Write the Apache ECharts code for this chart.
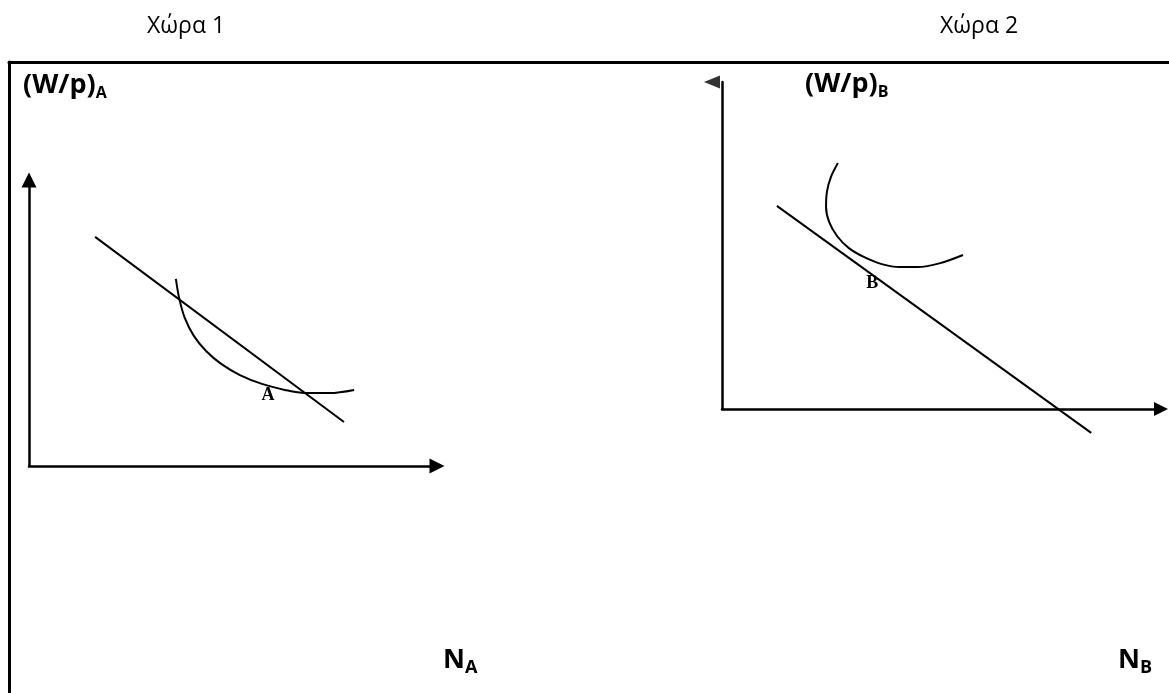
<!DOCTYPE html>
<html><head><meta charset="utf-8">
<script src="https://cdn.jsdelivr.net/npm/echarts@6/dist/echarts.min.js"></script>
<style>html,body{margin:0;padding:0;background:#fff}#c{width:1169px;height:693px}</style>
</head><body><div id="c"></div>
<script>
// ---- texts ----
const panelTitles = ['Χώρα 1', 'Χώρα 2'];
const yNames = [['(W/p)', 'A'], ['(W/p)', 'B']];
const xNames = [['N', 'A'], ['N', 'B']];

// ---- Country 1 (abstract units, axes 0..10) ----
const lineA = [[1.62, 8.01], [7.72, 1.54]];
const curveA = [[3.60,6.54],[3.68,5.87],[3.82,5.17],[4.04,4.55],[4.34,4.02],[4.71,3.57],[5.17,3.18],[5.71,2.87],[6.27,2.66],[6.76,2.55],[7.38,2.55],[7.97,2.66]];
const pointA = ['A', 5.86, 2.46];

// ---- Country 2 ----
const lineB = [[1.25, 6.21], [8.41, -0.73]];
const curveB = [[2.64,7.52],[2.48,7.09],[2.39,6.64],[2.37,6.18],[2.44,5.72],[2.62,5.29],[2.89,4.92],[3.23,4.65],[3.64,4.43],[4.05,4.34],[4.46,4.34],[4.97,4.46],[5.49,4.71]];
const pointB = ['B', 3.42, 3.85];

const axisMin = 0, axisMax = 10;

const chart = echarts.init(document.getElementById('c'), null, {renderer: 'canvas'});
const tri = 'path://M5,0L10,10L0,10Z';
const BLACK = '#000';

function valAxis(gi, extra) {
  return Object.assign({
    type: 'value', gridIndex: gi, min: axisMin, max: axisMax,
    axisTick: {show: false}, axisLabel: {show: false}, splitLine: {show: false},
    axisLine: {show: true, onZero: false, lineStyle: {color: BLACK, width: 2.5}}
  }, extra || {});
}

const measure = document.createElement('canvas').getContext('2d');
function subText(x, base, main, sub, size, subSize, drop) {
  const fm = 'bold ' + size + 'px "Open Sans"';
  measure.font = fm;
  const w = measure.measureText(main).width;
  return [
    {type: 'text', x: x, y: base - 0.285 * size, style: {text: main, font: fm, fill: BLACK, verticalAlign: 'middle', align: 'left'}},
    {type: 'text', x: x + w, y: base + drop - 0.285 * subSize, style: {text: sub, font: 'bold ' + subSize + 'px "Open Sans"', fill: BLACK, verticalAlign: 'middle', align: 'left'}}
  ];
}
function plain(x, base, t, size) {
  return {type: 'text', x: x, y: base - 0.285 * size, style: {text: t, font: size + 'px "Open Sans"', fill: BLACK, verticalAlign: 'middle', align: 'left'}};
}

function lineSeries(data, gi, smooth) {
  return {type: 'line', xAxisIndex: gi, yAxisIndex: gi, data: data, smooth: smooth, symbol: 'none', clip: false,
    lineStyle: {color: BLACK, width: 2}, silent: true, z: 3};
}
function pointSeries(p, gi) {
  return {type: 'scatter', xAxisIndex: gi, yAxisIndex: gi, data: [[p[1], p[2]]], symbolSize: 0, clip: false,
    itemStyle: {color: BLACK, opacity: 1}, silent: true, z: 4,
    label: {show: true, position: 'inside', formatter: p[0], color: BLACK, textBorderWidth: 0, opacity: 1,
      fontFamily: 'Liberation Serif', fontWeight: 'bold', fontSize: 18}};
}

const option = {
  backgroundColor: '#fff',
  animation: false,
  grid: [
    {left: 29, top: 180, width: 408, height: 286},
    {left: 722, top: 82, width: 439, height: 327},
    {left: 9, top: 62, right: 0, bottom: 0}
  ],
  xAxis: [
    valAxis(0, {axisLine: {show: true, onZero: false, symbol: ['none', tri], symbolSize: [15, 15], lineStyle: {color: BLACK, width: 2.5}}}),
    valAxis(1, {axisLine: {show: true, onZero: false, symbol: ['none', tri], symbolSize: [15, 14], lineStyle: {color: BLACK, width: 2.5}}}),
    valAxis(2, {position: 'top', axisLine: {show: true, onZero: false, lineStyle: {color: BLACK, width: 3}}})
  ],
  yAxis: [
    valAxis(0, {axisLine: {show: true, onZero: false, symbol: ['none', tri], symbolSize: [15, 16], lineStyle: {color: BLACK, width: 2.5}}}),
    valAxis(1),
    valAxis(2, {axisLine: {show: true, onZero: false, lineStyle: {color: BLACK, width: 3}}})
  ],
  series: [
    lineSeries(lineA, 0, false),
    lineSeries(curveA, 0, 0.3),
    pointSeries(pointA, 0),
    lineSeries(lineB, 1, false),
    lineSeries(curveB, 1, 0.3),
    pointSeries(pointB, 1),
    // left-pointing arrowhead at the top of the Country 2 vertical axis
    {type: 'scatter', xAxisIndex: 1, yAxisIndex: 1, data: [[axisMin, axisMax]], clip: false, silent: true,
      symbol: 'triangle', symbolRotate: 90, symbolSize: [13, 16], symbolOffset: [-10, 0],
      itemStyle: {color: BLACK}, z: 5}
  ],
  graphic: [
    plain(147, 33, panelTitles[0], 23),
    plain(940, 33, panelTitles[1], 23),
    ...subText(23, 93, yNames[0][0], yNames[0][1], 27, 16, 5),
    ...subText(805, 92, yNames[1][0], yNames[1][1], 27, 16, 5),
    ...subText(443, 668, xNames[0][0], xNames[0][1], 27, 18, 5),
    ...subText(1118, 668, xNames[1][0], xNames[1][1], 27, 18, 5)
  ]
};
chart.setOption(option);
</script>
</body></html>
